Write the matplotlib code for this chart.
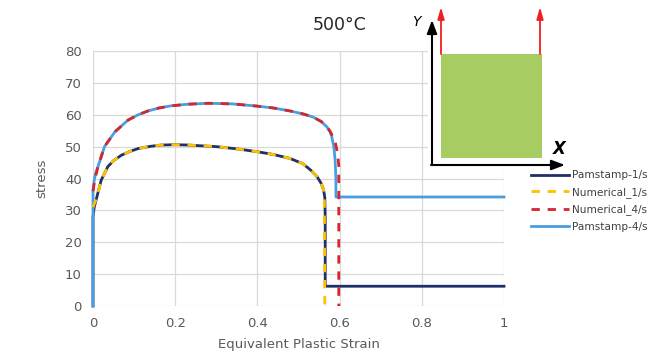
import matplotlib
matplotlib.use("Agg")
import matplotlib.pyplot as plt
from matplotlib.patches import Rectangle

# ---- data ----
pam1_strain = [0, 0, 0.003, 0.008, 0.02, 0.036, 0.05, 0.069, 0.09, 0.11, 0.14, 0.166, 0.2, 0.23, 0.3, 0.35,
               0.4, 0.44, 0.479, 0.51, 0.53, 0.545, 0.555, 0.561, 0.564, 0.565, 0.565, 1.0]
pam1_stress = [0, 28, 31, 33.5, 39.5, 43.7, 45.6, 47.3, 48.5, 49.4, 50.1, 50.5, 50.6, 50.5, 50.0, 49.3,
               48.4, 47.5, 46.3, 44.7, 42.6, 40.6, 38.5, 36.5, 34, 28, 6.2, 6.2]

num1_strain = [0, 0.003, 0.008, 0.02, 0.036, 0.05, 0.069, 0.09, 0.11, 0.14, 0.166, 0.2, 0.23, 0.3, 0.35,
               0.4, 0.44, 0.479, 0.51, 0.53, 0.545, 0.555, 0.561, 0.563, 0.564]
num1_stress = [31, 32, 33.5, 39.5, 43.7, 45.6, 47.3, 48.5, 49.4, 50.1, 50.5, 50.6, 50.5, 50.0, 49.3,
               48.4, 47.5, 46.3, 44.7, 42.6, 40.6, 38.5, 36.5, 33, 0]

pam4_strain = [0, 0, 0.003, 0.006, 0.012, 0.028, 0.053, 0.085, 0.11, 0.134, 0.16, 0.19, 0.23, 0.28, 0.34,
               0.4, 0.44, 0.479, 0.51, 0.535, 0.555, 0.569, 0.577, 0.581, 0.586, 0.589, 0.591, 0.591, 1.0]
pam4_stress = [0, 36, 39.5, 41.5, 43.7, 50, 54.6, 58.3, 60, 61.2, 62.1, 62.8, 63.3, 63.6, 63.4,
               62.7, 62.1, 61.2, 60.3, 59.3, 57.9, 56.2, 54.6, 53.1, 49.9, 46, 40, 34.2, 34.2]

num4_strain = [0, 0.003, 0.006, 0.012, 0.028, 0.053, 0.085, 0.11, 0.134, 0.16, 0.19, 0.23, 0.28, 0.34,
               0.4, 0.44, 0.479, 0.51, 0.535, 0.555, 0.569, 0.577, 0.584, 0.59, 0.595, 0.598, 0.598]
num4_stress = [36, 38.5, 40.5, 43.7, 50, 54.6, 58.3, 60, 61.2, 62.1, 62.8, 63.3, 63.6, 63.4,
               62.7, 62.1, 61.2, 60.3, 59.3, 57.9, 56.2, 54.8, 53, 51, 48, 44, 0]

x_ticks = [0, 0.2, 0.4, 0.6, 0.8, 1]
x_ticklabels = ["0", "0.2", "0.4", "0.6", "0.8", "1"]
y_ticks = [0, 10, 20, 30, 40, 50, 60, 70, 80]

labels = ["Pamstamp-1/s", "Numerical_1/s", "Numerical_4/s", "Pamstamp-4/s"]
colors = ["#1F3068", "#FFC000", "#D4262C", "#4A9EE0"]

W, H = 662, 361
fig = plt.figure(figsize=(W / 100, H / 100), dpi=100)
fig.patch.set_facecolor("white")

ax = fig.add_axes([93 / W, 1 - 306 / H, (504 - 93) / W, (306 - 51) / H])
ax.set_xlim(0, 1)
ax.set_ylim(0, 80)
ax.set_xticks(x_ticks)
ax.set_xticklabels(x_ticklabels)
ax.set_yticks(y_ticks)
for s in ax.spines.values():
    s.set_visible(False)
ax.grid(True, color="#D9D9D9", linewidth=0.9, zorder=0)
ax.set_axisbelow(True)
ax.tick_params(length=0, labelsize=9.5, labelcolor="#595959", pad=8)

l1, = ax.plot(pam1_strain, pam1_stress, color=colors[0], lw=2.0, label=labels[0], zorder=3, clip_on=False)
l4, = ax.plot(pam4_strain, pam4_stress, color=colors[3], lw=2.0, label=labels[3], zorder=3, clip_on=False)
l2, = ax.plot(num1_strain, num1_stress, color=colors[1], lw=2.0, ls=(0, (3.0, 2.8)), label=labels[1], zorder=4, clip_on=False)
l3, = ax.plot(num4_strain, num4_stress, color=colors[2], lw=2.0, ls=(0, (3.0, 2.8)), label=labels[2], zorder=4, clip_on=False)

ax.set_xlabel("Equivalent Plastic Strain", fontsize=9.5, color="#595959", labelpad=6)
ax.set_ylabel("stress", fontsize=9.5, color="#595959", labelpad=12)

fig.text(340 / W, 1 - 25 / H, "500°C", fontsize=12.5, color="#262626", ha="center", va="center")

# ---- inset sketch ----
ov = fig.add_axes([0, 0, 1, 1], zorder=5)
ov.set_xlim(0, W)
ov.set_ylim(H, 0)
ov.axis("off")
ov.patch.set_alpha(0)
ov.add_patch(Rectangle((428, 0), 145, 170, facecolor="white", edgecolor="none"))
ov.add_patch(Rectangle((441, 54), 101, 104, facecolor="#A6CC62", edgecolor="none"))
ov.annotate("", xy=(432, 20), xytext=(432, 165),
            arrowprops=dict(arrowstyle="-|>,head_length=0.8,head_width=0.3", color="black", lw=1.5,
                            shrinkA=0, shrinkB=0))
ov.annotate("", xy=(565, 165), xytext=(431, 165),
            arrowprops=dict(arrowstyle="-|>,head_length=0.8,head_width=0.3", color="black", lw=1.5,
                            shrinkA=0, shrinkB=0))
for xa in (441, 540):
    ov.annotate("", xy=(xa, 7), xytext=(xa, 54),
                arrowprops=dict(arrowstyle="-|>,head_length=0.7,head_width=0.2", color="#F02020", lw=1.3,
                                shrinkA=0, shrinkB=0))
ov.text(416, 22, "Y", fontsize=10, style="italic", ha="center", va="center", color="black")
ov.text(559, 149, "X", fontsize=12, style="italic", fontweight="bold", ha="center", va="center", color="black")

# ---- legend ----
leg = fig.legend(handles=[l1, l2, l3, l4], labels=labels, loc="upper left",
                 bbox_to_anchor=(527 / W, 1 - 166 / H), frameon=False, fontsize=7.6,
                 handlelength=3.6, handletextpad=0.3, labelspacing=0.62, borderaxespad=0)
for t in leg.get_texts():
    t.set_color("#404040")

fig.savefig("out.png", dpi=100, facecolor="white")
